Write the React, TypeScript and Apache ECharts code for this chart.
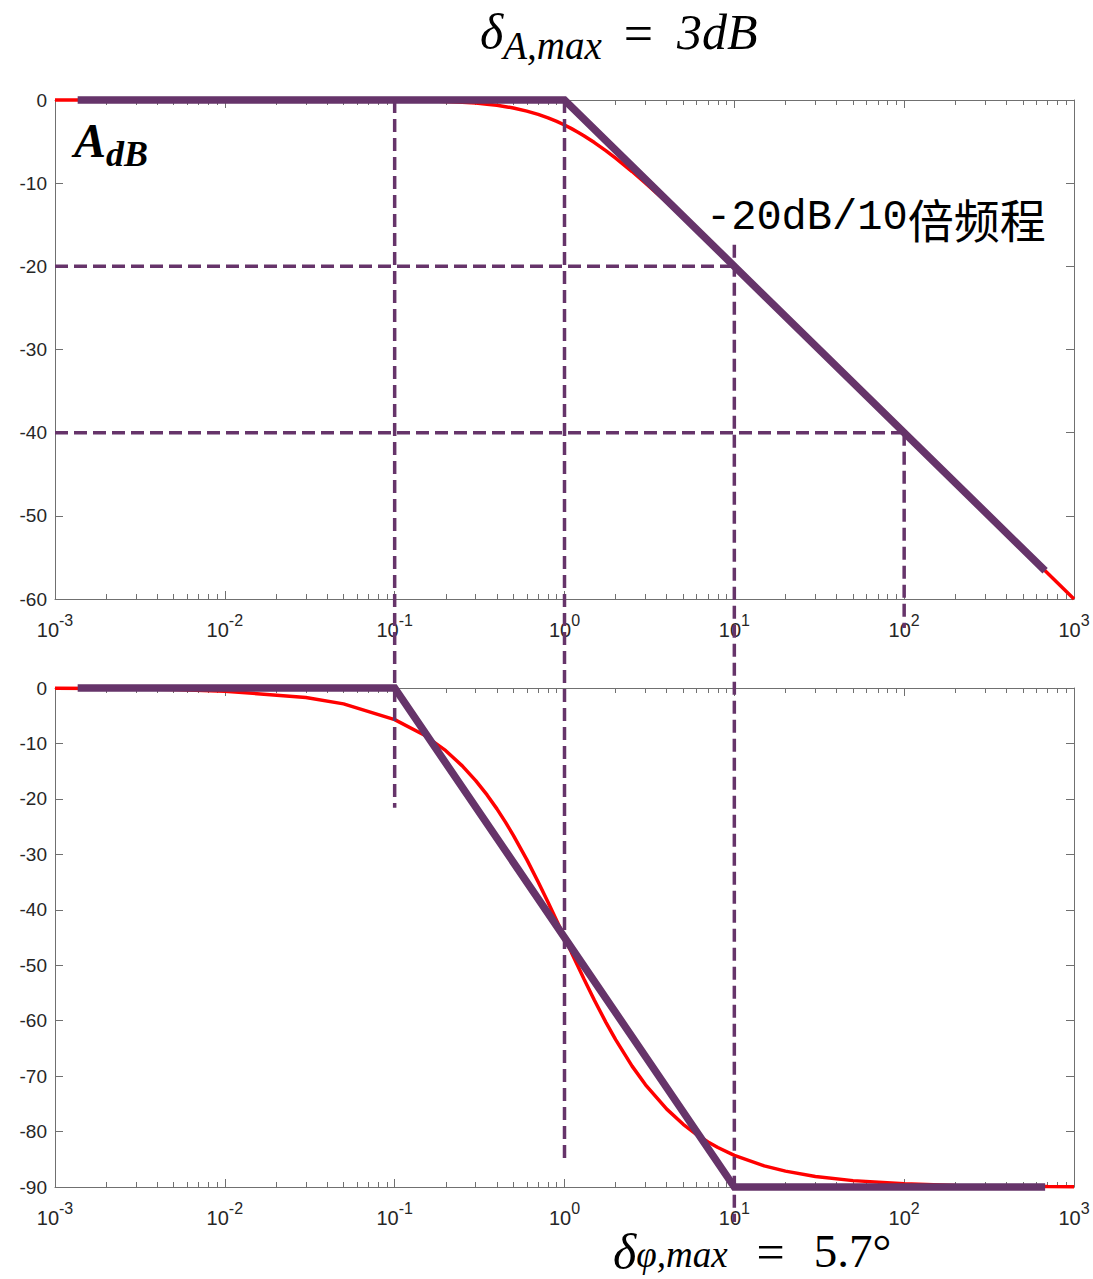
import React, { useEffect, useRef } from 'react';
import * as echarts from 'echarts';

// ---------- data ----------
const decadeTicks = [-3, -2, -1, 0, 1, 2, 3];
const minorMultipliers = [2, 3, 4, 5, 6, 7, 8, 9];

// frequencies at which the curves were read
const curveFreq = [0.001, 0.002, 0.005, 0.01, 0.03, 0.05, 0.1, 0.15, 0.2, 0.25, 0.3, 0.35, 0.4, 0.45, 0.5, 0.6, 0.7, 0.8, 0.9, 1, 1.1, 1.2, 1.3, 1.5, 1.75, 2, 2.5, 3, 4, 5, 6, 7, 8, 10, 15, 20, 30, 50, 100, 200, 300, 500, 700, 1000];
// amplitude curve (dB)
const ampDb = [0, 0, -0.0001, -0.0004, -0.004, -0.011, -0.043, -0.097, -0.17, -0.263, -0.37, -0.502, -0.64, -0.801, -0.97, -1.34, -1.73, -2.15, -2.577, -3.01, -3.444, -3.87, -4.298, -5.12, -6.088, -6.99, -8.6, -10, -12.3, -14.15, -15.68, -16.99, -18.13, -20.04, -23.54, -26.03, -29.55, -33.98, -40, -46.02, -49.54, -53.98, -56.9, -60];
// phase curve (deg)
const phaseDeg = [-0.06, -0.11, -0.29, -0.57, -1.72, -2.86, -5.71, -8.53, -11.31, -14.04, -16.7, -19.29, -21.8, -24.23, -26.57, -30.96, -34.99, -38.66, -41.99, -45, -47.73, -50.19, -52.43, -56.31, -60.26, -63.43, -68.2, -71.57, -75.96, -78.69, -80.54, -81.87, -82.87, -84.29, -86.19, -87.14, -88.09, -88.85, -89.43, -89.71, -89.81, -89.89, -89.92, -89.94];

// asymptotes
const ampAsymFreq = [0.00136, 1, 676];
const ampAsymDb = [0, 0, -56.6];
const phaseAsymFreq = [0.00136, 0.1, 10, 676];
const phaseAsymDeg = [0, 0, -90, -90];

// dashed guides (vertical ones expressed in the upper panel's dB units, running down into the lower panel)
const vGuideFreq = [0.1, 1, 10, 100];
const vGuideTopDb = [0, 0, -17.4, -40];
const vGuideEndDb = [-85.1, -127.4, -134.9, -63.5];
const hGuideDb = [-20, -40];
const hGuideStartFreq = [0.001, 0.001];
const hGuideEndFreq = [10, 100];

const ampTicks = [0, -10, -20, -30, -40, -50, -60];
const phaseTicks = [0, -10, -20, -30, -40, -50, -60, -70, -80, -90];

// ---------- styles ----------
const PURPLE = '#66346a';
const RED = '#ff0000';
const AXIS = '#707070';
const LABEL = '#262626';

const lg = (f: number) => Math.log10(f);
const minorVals: number[] = [];
for (let d = -3; d < 3; d++) for (const m of minorMultipliers) minorVals.push(Math.log10(m * Math.pow(10, d)));

export default function App() {
  const ref = useRef<HTMLDivElement>(null);
  useEffect(() => {
    document.body.style.margin = '0';
    const chart = echarts.init(ref.current!, null, { renderer: 'svg' });

    const grids = [
      { left: 55, top: 100, width: 1019, height: 499, yMin: ampTicks[ampTicks.length - 1] },
      { left: 55, top: 688, width: 1019, height: 499, yMin: phaseTicks[phaseTicks.length - 1] },
    ];

    const xAxes: any[] = [];
    const yAxes: any[] = [];
    grids.forEach((g, gi) => {
      const base = { gridIndex: gi, type: 'value', min: decadeTicks[0], max: decadeTicks[decadeTicks.length - 1], interval: 1, splitLine: { show: false } };
      xAxes.push({
        ...base, position: 'bottom',
        axisLine: { show: true, onZero: false, lineStyle: { color: AXIS, width: 1 } },
        axisTick: { show: true, inside: true, length: 8, lineStyle: { color: AXIS } },
        axisLabel: {
          show: true, margin: 13,
          formatter: (v: number) => `{b|10}{s|${Math.round(v)}}`,
          rich: {
            b: { fontFamily: 'Liberation Sans', fontSize: 20, color: LABEL, lineHeight: 28, verticalAlign: 'bottom' },
            s: { fontFamily: 'Liberation Sans', fontSize: 16, color: LABEL, lineHeight: 17, verticalAlign: 'top' },
          },
        },
      });
      xAxes.push({
        ...base, position: 'bottom',
        axisLine: { show: false, onZero: false },
        axisTick: { show: true, inside: true, length: 5, customValues: minorVals, lineStyle: { color: AXIS } },
        axisLabel: { show: false },
      });
      xAxes.push({
        ...base, position: 'top',
        axisLine: { show: true, onZero: false, lineStyle: { color: AXIS, width: 1 } },
        axisTick: { show: true, inside: true, length: 8, lineStyle: { color: AXIS } },
        axisLabel: { show: false },
      });
      xAxes.push({
        ...base, position: 'top',
        axisLine: { show: false, onZero: false },
        axisTick: { show: true, inside: true, length: 5, customValues: minorVals, lineStyle: { color: AXIS } },
        axisLabel: { show: false },
      });
      const ybase = { gridIndex: gi, type: 'value', min: g.yMin, max: 0, interval: 10, splitLine: { show: false } };
      yAxes.push({
        ...ybase, position: 'left',
        axisLine: { show: true, onZero: false, lineStyle: { color: AXIS, width: 1 } },
        axisTick: { show: true, inside: true, length: 8, lineStyle: { color: AXIS } },
        axisLabel: { show: true, margin: 8, fontFamily: 'Liberation Sans', fontSize: 19, color: LABEL },
      });
      yAxes.push({
        ...ybase, position: 'right',
        axisLine: { show: true, onZero: false, lineStyle: { color: AXIS, width: 1 } },
        axisTick: { show: true, inside: true, length: 8, lineStyle: { color: AXIS } },
        axisLabel: { show: false },
      });
    });

    const pts = (fs: number[], vs: number[]) => fs.map((f, i) => [lg(f), vs[i]]);
    const dashStyle = { color: PURPLE, width: 3.5, type: [13, 6] as any };

    const series: any[] = [
      {
        type: 'line', xAxisIndex: 0, yAxisIndex: 0, data: pts(curveFreq, ampDb), showSymbol: false,
        lineStyle: { color: RED, width: 3.5 }, z: 2, clip: false,
      },
      {
        type: 'line', xAxisIndex: 4, yAxisIndex: 2, data: pts(curveFreq, phaseDeg), showSymbol: false,
        lineStyle: { color: RED, width: 3.5 }, z: 2, clip: false,
      },
      {
        type: 'line', xAxisIndex: 0, yAxisIndex: 0, data: pts(ampAsymFreq, ampAsymDb), showSymbol: false,
        lineStyle: { color: PURPLE, width: 7.5, cap: 'butt', join: 'miter' }, z: 3, clip: false,
      },
      {
        type: 'line', xAxisIndex: 4, yAxisIndex: 2, data: pts(phaseAsymFreq, phaseAsymDeg), showSymbol: false,
        lineStyle: { color: PURPLE, width: 7.5, cap: 'butt', join: 'miter' }, z: 3, clip: false,
      },
    ];
    vGuideFreq.forEach((f, i) => {
      series.push({
        type: 'line', xAxisIndex: 0, yAxisIndex: 0, showSymbol: false, clip: false, z: 4,
        data: [[lg(f), vGuideTopDb[i]], [lg(f), vGuideEndDb[i]]], lineStyle: dashStyle,
      });
    });
    hGuideDb.forEach((v, i) => {
      series.push({
        type: 'line', xAxisIndex: 0, yAxisIndex: 0, showSymbol: false, clip: false, z: 4,
        data: [[lg(hGuideStartFreq[i]), v], [lg(hGuideEndFreq[i]), v]], lineStyle: dashStyle,
      });
    });

    const serifIt = { fontFamily: 'Liberation Serif', fontStyle: 'italic', fill: '#000' };
    const serif = { fontFamily: 'Liberation Serif', fill: '#000' };
    const graphic: any[] = [
      {
        type: 'text', x: 480, y: 7, z: 10,
        style: {
          text: '{d|δ}{s|A,max}{e|=}{t|3dB}',
          verticalAlign: 'top',
          rich: {
            d: { ...serifIt, fontSize: 50, lineHeight: 58, verticalAlign: 'top' },
            s: { ...serifIt, fontSize: 39, lineHeight: 26, verticalAlign: 'bottom' },
            e: { ...serif, fontSize: 52, lineHeight: 58, verticalAlign: 'top', padding: [0, 24, 0, 22] },
            t: { ...serifIt, fontSize: 50, lineHeight: 58, verticalAlign: 'top' },
          },
        },
      },
      {
        type: 'text', x: 74, y: 116, z: 10,
        style: {
          text: '{a|A}{s|dB}',
          verticalAlign: 'top',
          rich: {
            a: { ...serifIt, fontWeight: 'bold', fontSize: 48, lineHeight: 56, verticalAlign: 'top' },
            s: { ...serifIt, fontWeight: 'bold', fontSize: 36, lineHeight: 24, verticalAlign: 'bottom' },
          },
        },
      },
      {
        type: 'text', x: 706, y: 218, z: 10,
        style: {
          text: '{m|-20dB/10}{c|倍频程}',
          verticalAlign: 'middle',
          rich: {
            m: { fontFamily: 'Liberation Mono', fontSize: 42, fill: '#000', lineHeight: 50 },
            c: { fontFamily: 'Noto Sans CJK SC', fontSize: 46, fill: '#000', lineHeight: 50 },
          },
        },
      },
      {
        type: 'text', x: 613, y: 1227, z: 10,
        style: {
          text: '{d|δ}{s|φ,max}{e|=}{t|5.7°}',
          verticalAlign: 'top',
          rich: {
            d: { ...serifIt, fontSize: 50, lineHeight: 46, verticalAlign: 'top' },
            s: { ...serifIt, fontSize: 37, lineHeight: 18, verticalAlign: 'bottom' },
            e: { ...serif, fontSize: 50, lineHeight: 46, verticalAlign: 'top', padding: [0, 29, 0, 29] },
            t: { ...serif, fontSize: 47, lineHeight: 46, verticalAlign: 'top' },
          },
        },
      },
    ];

    chart.setOption({
      animation: false,
      backgroundColor: '#ffffff',
      grid: grids.map((g) => ({ left: g.left, top: g.top, width: g.width, height: g.height, containLabel: false, outerBoundsMode: 'none' })),
      xAxis: xAxes,
      yAxis: yAxes,
      series,
      graphic,
    });
    return () => chart.dispose();
  }, []);
  return <div ref={ref} style={{ width: 1093, height: 1279, position: 'absolute', left: 0, top: 0 }} />;
}
